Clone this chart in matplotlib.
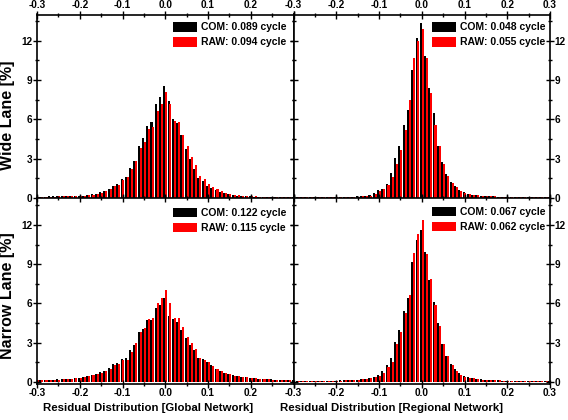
import numpy as np
import matplotlib

matplotlib.use("Agg")
import matplotlib.pyplot as plt
from matplotlib.patches import Patch
from matplotlib.ticker import MultipleLocator, FuncFormatter

# bin centres, 0.01 cycle wide, -0.30 .. 0.30
bins = np.round(np.arange(-0.30, 0.3001, 0.01), 2)

# ---- Wide Lane, Global Network ----
wl_global_com = [
    0.10, 0.10, 0.10, 0.12, 0.12, 0.13, 0.13, 0.13, 0.14, 0.15,
    0.16, 0.18, 0.22, 0.27, 0.33, 0.42, 0.55, 0.72, 0.95, 1.05,
    1.45, 1.62, 2.25, 2.85, 3.97, 4.55, 5.52, 5.78, 7.18, 7.74,
    8.58,
    7.38, 6.00, 5.72, 4.78, 3.75, 2.95, 2.20, 1.55, 1.30, 0.95,
    0.75, 0.60, 0.45, 0.35, 0.28, 0.22, 0.18, 0.15, 0.13, 0.12,
    0.11, 0.10, 0.10, 0.10, 0.10, 0.09, 0.09, 0.09, 0.08, 0.08]
wl_global_raw = [
    0.10, 0.10, 0.10, 0.11, 0.11, 0.12, 0.12, 0.12, 0.13, 0.14,
    0.15, 0.17, 0.20, 0.25, 0.30, 0.38, 0.50, 0.65, 0.88, 1.00,
    1.38, 1.58, 2.20, 2.82, 3.84, 4.27, 5.27, 5.45, 6.67, 7.18,
    8.10,
    7.15, 5.85, 5.78, 4.80, 4.00, 3.10, 2.50, 1.65, 1.45, 1.10,
    0.82, 0.65, 0.50, 0.38, 0.30, 0.25, 0.20, 0.17, 0.15, 0.13,
    0.12, 0.11, 0.11, 0.10, 0.10, 0.10, 0.09, 0.09, 0.09, 0.08]

# ---- Wide Lane, Regional Network ----
wl_regional_com = [
    0.05, 0.05, 0.05, 0.05, 0.05, 0.06, 0.06, 0.06, 0.07, 0.07,
    0.08, 0.08, 0.09, 0.10, 0.11, 0.12, 0.14, 0.16, 0.20, 0.38,
    0.58, 0.71, 1.10, 1.93, 3.05, 3.97, 5.60, 6.70, 9.75, 12.24,
    13.36,
    10.80, 8.40, 6.45, 3.95, 2.75, 1.85, 1.25, 0.90, 0.60, 0.42,
    0.30, 0.25, 0.20, 0.17, 0.15, 0.13, 0.12, 0.10, 0.09, 0.08,
    0.07, 0.06, 0.06, 0.05, 0.05, 0.05, 0.04, 0.04, 0.04, 0.04]
wl_regional_raw = [
    0.05, 0.05, 0.05, 0.05, 0.05, 0.05, 0.06, 0.06, 0.06, 0.07,
    0.07, 0.08, 0.08, 0.09, 0.10, 0.11, 0.13, 0.15, 0.18, 0.33,
    0.50, 0.65, 1.00, 1.60, 2.60, 3.66, 5.20, 7.50, 10.70, 12.00,
    12.90,
    10.70, 8.00, 5.60, 4.00, 2.60, 1.65, 1.17, 0.85, 0.55, 0.40,
    0.30, 0.25, 0.21, 0.18, 0.15, 0.13, 0.12, 0.10, 0.09, 0.08,
    0.07, 0.07, 0.06, 0.06, 0.05, 0.05, 0.05, 0.04, 0.04, 0.04]

# ---- Narrow Lane, Global Network ----
nl_global_com = [
    0.15, 0.15, 0.15, 0.16, 0.17, 0.18, 0.20, 0.22, 0.25, 0.28,
    0.32, 0.38, 0.45, 0.55, 0.62, 0.75, 0.85, 1.05, 1.35, 1.45,
    1.75, 1.85, 2.40, 2.85, 3.80, 4.05, 4.70, 4.70, 5.65, 5.90,
    6.40,
    5.00, 4.80, 4.55, 3.95, 3.35, 2.85, 2.40, 1.85, 1.75, 1.55,
    1.25, 1.00, 0.85, 0.70, 0.60, 0.50, 0.45, 0.40, 0.35, 0.30,
    0.28, 0.25, 0.22, 0.20, 0.18, 0.17, 0.16, 0.15, 0.14, 0.13]
nl_global_raw = [
    0.14, 0.14, 0.14, 0.15, 0.16, 0.17, 0.19, 0.21, 0.23, 0.26,
    0.30, 0.35, 0.42, 0.50, 0.58, 0.70, 0.80, 0.95, 1.25, 1.35,
    1.65, 1.70, 2.30, 2.95, 3.80, 4.10, 4.80, 4.90, 6.00, 6.40,
    7.05,
    6.05, 4.90, 4.85, 4.20, 3.40, 2.95, 2.50, 1.80, 1.70, 1.50,
    1.20, 0.98, 0.82, 0.68, 0.58, 0.48, 0.43, 0.38, 0.33, 0.29,
    0.27, 0.24, 0.21, 0.19, 0.17, 0.16, 0.15, 0.14, 0.13, 0.12]

# ---- Narrow Lane, Regional Network ----
nl_regional_com = [
    0.05, 0.05, 0.05, 0.05, 0.06, 0.06, 0.07, 0.07, 0.08, 0.08,
    0.09, 0.10, 0.11, 0.12, 0.14, 0.16, 0.20, 0.24, 0.30, 0.40,
    0.50, 0.80, 1.25, 1.80, 3.05, 4.00, 5.45, 6.45, 9.20, 10.85,
    11.60,
    9.90, 7.80, 6.10, 4.50, 2.90, 2.00, 1.40, 1.00, 0.65, 0.45,
    0.35, 0.28, 0.22, 0.18, 0.15, 0.13, 0.11, 0.10, 0.09, 0.08,
    0.07, 0.07, 0.06, 0.06, 0.05, 0.05, 0.05, 0.04, 0.04, 0.04]
nl_regional_raw = [
    0.05, 0.05, 0.05, 0.05, 0.05, 0.06, 0.06, 0.07, 0.07, 0.08,
    0.08, 0.09, 0.10, 0.11, 0.13, 0.15, 0.18, 0.22, 0.27, 0.36,
    0.46, 0.70, 1.15, 1.55, 2.90, 3.83, 5.23, 6.63, 9.87, 11.30,
    12.37,
    9.80, 7.90, 5.90, 4.30, 2.90, 2.00, 1.30, 0.85, 0.55, 0.40,
    0.32, 0.26, 0.21, 0.17, 0.14, 0.12, 0.11, 0.10, 0.09, 0.08,
    0.07, 0.06, 0.06, 0.05, 0.05, 0.05, 0.04, 0.04, 0.04, 0.04]

labels_com = ["COM: 0.089 cycle", "COM: 0.048 cycle", "COM: 0.122 cycle", "COM: 0.067 cycle"]
labels_raw = ["RAW: 0.094 cycle", "RAW: 0.055 cycle", "RAW: 0.115 cycle", "RAW: 0.062 cycle"]

plt.rcParams["font.family"] = ["Liberation Sans", "DejaVu Sans"]
plt.rcParams["font.weight"] = "bold"

W, H = 568, 420
fig = plt.figure(figsize=(W / 100, H / 100), dpi=100)


def px_axes(x0, y0, x1, y1):
    return fig.add_axes([x0 / W, 1 - y1 / H, (x1 - x0) / W, (y1 - y0) / H])


def xfmt_left(v, _):
    # the right panel's -0.3 sits on the shared border
    return "" if v > 0.29 else f"{v:.1f}"


def xfmt_right(v, _):
    return f"{v:.1f}"


panels = [
    (px_axes(37, 14.5, 293.5, 199), wl_global_com, wl_global_raw, (-0.08, 14.0), "tl"),
    (px_axes(293.5, 14.5, 550, 199), wl_regional_com, wl_regional_raw, (-0.08, 14.0), "tr"),
    (px_axes(37, 198, 293.5, 383.5), nl_global_com, nl_global_raw, (-0.13, 14.07), "bl"),
    (px_axes(293.5, 198, 550, 383.5), nl_regional_com, nl_regional_raw, (-0.13, 14.07), "br"),
]
# small nudges of the legend box (px right, px down)
legend_shift = [(0, 1), (2, 1), (0, 3), (2, 2)]

bw, off = 0.0048, 0.0022
for i, (ax, com, raw, ylim, pos) in enumerate(panels):
    ax.bar(bins - off, com, width=bw, color="black", linewidth=0)
    ax.bar(bins + off, raw, width=bw, color="#ff0000", linewidth=0)
    ax.set_xlim(-0.3, 0.3)
    ax.set_ylim(*ylim)
    ax.xaxis.set_major_locator(MultipleLocator(0.1))
    ax.xaxis.set_minor_locator(MultipleLocator(0.05))
    ax.xaxis.set_major_formatter(FuncFormatter(xfmt_left if pos[1] == "l" else xfmt_right))
    ax.yaxis.set_major_locator(MultipleLocator(3))
    ax.yaxis.set_minor_locator(MultipleLocator(1.5))
    ax.tick_params(which="both", direction="inout", top=True, bottom=True,
                   left=True, right=True, width=1.0, labelsize=7.2, pad=0.5)
    ax.tick_params(which="major", length=5.5)
    ax.tick_params(which="minor", length=3.2)
    ax.tick_params(labeltop=pos[0] == "t", labelbottom=pos[0] == "b",
                   labelleft=pos[1] == "l", labelright=pos[1] == "r")
    for s in ax.spines.values():
        s.set_linewidth(1.2)
    handles = [Patch(facecolor="black"), Patch(facecolor="#ff0000")]
    dx, dy = legend_shift[i]
    ax.legend(handles, [labels_com[i], labels_raw[i]], loc="upper right",
              bbox_to_anchor=(1 + dx / 256.5, 1 - dy / 185),
              frameon=False, handlelength=2.3, handleheight=1.0,
              labelspacing=0.45, handletextpad=0.4, borderaxespad=0.35,
              borderpad=0.3, prop={"weight": "bold", "size": 7.5})

fig.text(8 / W, 1 - 115 / H, "Wide Lane [%]", rotation=90, ha="center", va="center",
         fontsize=11.5, fontweight="bold")
fig.text(8 / W, 1 - 296 / H, "Narrow Lane [%]", rotation=90, ha="center", va="center",
         fontsize=11.5, fontweight="bold")
fig.text(148 / W, 1 - 408 / H, "Residual Distribution [Global Network]", ha="center",
         va="center", fontsize=8.2, fontweight="bold")
fig.text(392 / W, 1 - 408 / H, "Residual Distribution [Regional Network]", ha="center",
         va="center", fontsize=8.2, fontweight="bold")

fig.savefig("out.png", dpi=100)
